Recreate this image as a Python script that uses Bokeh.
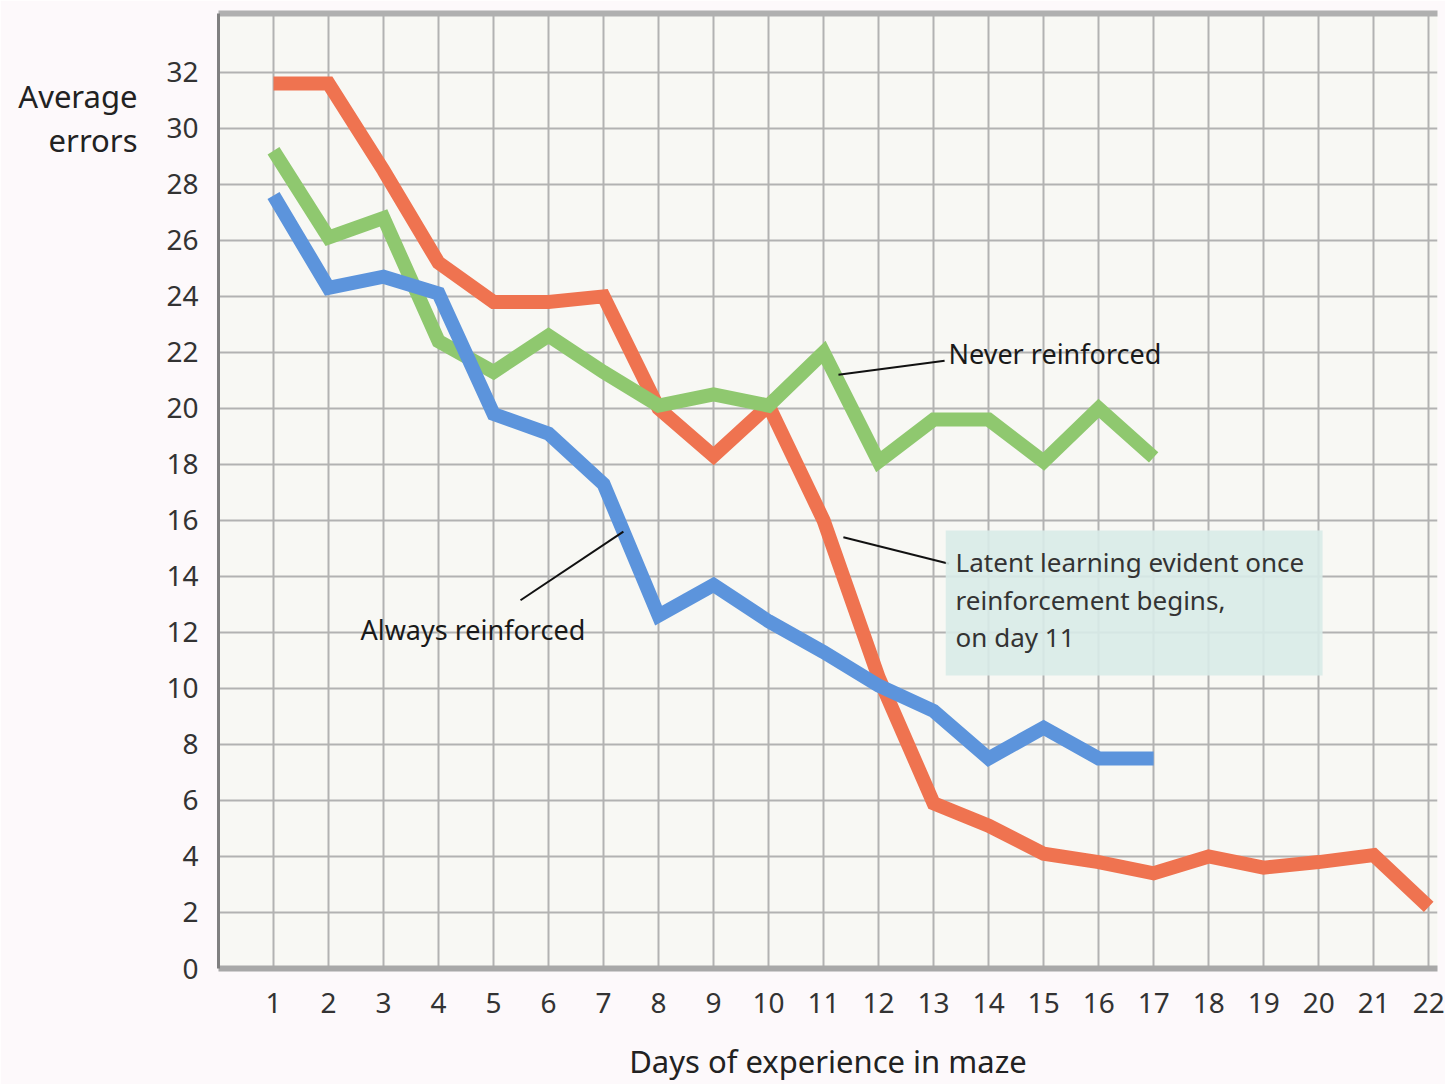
from bokeh.plotting import figure
from bokeh.models import (Label, BoxAnnotation, LinearAxis, FixedTicker, Range1d)
from bokeh.embed import file_html
from bokeh.resources import INLINE

# ---- data ----
days_red = list(range(1, 23))
latent = [31.6, 31.6, 28.5, 25.2, 23.8, 23.8, 24.0, 20.0, 18.3, 20.1, 16.0, 10.4,
          5.9, 5.1, 4.1, 3.8, 3.4, 4.0, 3.6, 3.8, 4.05, 2.2]
days_17 = list(range(1, 18))
never = [29.2, 26.1, 26.8, 22.4, 21.3, 22.6, 21.3, 20.1, 20.5, 20.1, 22.0, 18.1,
         19.6, 19.6, 18.1, 20.0, 18.25]
always = [27.6, 24.3, 24.7, 24.1, 19.8, 19.1, 17.3, 12.6, 13.7, 12.4, 11.3, 10.1,
          9.2, 7.5, 8.6, 7.5, 7.5]
y_ticks = list(range(0, 33, 2))
x_ticks = list(range(1, 23))
y_title = "Average\nerrors"
y_title_pos = 30.375

RED = "#ef7350"
GREEN = "#8fc86f"
BLUE = "#5c94dc"
FONT = "Noto Sans"

p = figure(width=1445, height=1084, output_backend="svg", toolbar_location=None,
           x_range=Range1d(0, 22.16), y_range=Range1d(0, 34.1),
           min_border_left=218, min_border_right=8, min_border_top=13,
           min_border_bottom=112, background_fill_color="#f8f8f4",
           border_fill_color="#fdf9fb", outline_line_color=None)

# grid
p.xgrid.ticker = FixedTicker(ticks=x_ticks)
p.ygrid.ticker = FixedTicker(ticks=y_ticks)
for g in (p.xgrid, p.ygrid):
    g.grid_line_color = "#b2b2b2"
    g.grid_line_width = 2

# axes
xa = p.xaxis[0]
xa.ticker = FixedTicker(ticks=x_ticks)
xa.axis_line_color = "#a8a8a8"
xa.axis_line_width = 6
xa.major_tick_line_color = None
xa.major_tick_out = 0
xa.minor_tick_line_color = None
xa.major_label_text_font = FONT
xa.major_label_text_font_size = "28px"
xa.major_label_text_color = "#333333"
xa.major_label_standoff = 24
xa.axis_label = "Days of experience in maze"
xa.axis_label_text_font = FONT
xa.axis_label_text_font_size = "31px"
xa.axis_label_text_font_style = "normal"
xa.axis_label_text_color = "#222222"
xa.axis_label_standoff = 24

ya = p.yaxis[0]
ya.ticker = FixedTicker(ticks=y_ticks)
ya.axis_line_color = "#808080"
ya.axis_line_width = 3
ya.major_tick_line_color = None
ya.major_tick_out = 0
ya.minor_tick_line_color = None
ya.major_label_text_font = FONT
ya.major_label_text_font_size = "28px"
ya.major_label_text_color = "#333333"
ya.major_label_standoff = 20

# y title as a second, line-less axis carrying one label
ta = LinearAxis(ticker=FixedTicker(ticks=[y_title_pos]),
                major_label_overrides={y_title_pos: y_title},
                axis_line_color=None, major_tick_line_color=None, major_tick_out=0,
                minor_tick_line_color=None, major_label_standoff=26,
                major_label_text_font=FONT, major_label_text_font_size="31px",
                major_label_text_line_height=1.05,
                major_label_text_color="#222222")
p.add_layout(ta, "left")

top = LinearAxis(ticker=FixedTicker(ticks=[]), axis_line_color="#b0b0b0",
                 axis_line_width=6, major_tick_line_color=None, major_tick_out=0,
                 minor_tick_line_color=None, major_label_text_font_size="0px")
p.add_layout(top, "above")

# lines
p.line(days_red, latent, line_color=RED, line_width=14, line_join="miter")
p.line(days_17, never, line_color=GREEN, line_width=14, line_join="miter")
p.line(days_17, always, line_color=BLUE, line_width=14, line_join="miter")

# annotation box
p.add_layout(BoxAnnotation(left=13.22, right=20.07, bottom=10.46, top=15.64,
                           fill_color="#d8ebe8", fill_alpha=0.9, line_color=None))

note_lines = ["Latent learning evident once", "reinforcement begins,", "on day 11"]
for i, t in enumerate(note_lines):
    p.add_layout(Label(x=13.4, y=14.5 - i * 1.34, text=t, text_align="left",
                       text_baseline="middle", text_font=FONT,
                       text_font_size="26px", text_color="#333333"))

p.add_layout(Label(x=13.27, y=21.95, text="Never reinforced", text_align="left",
                   text_baseline="middle", text_font=FONT, text_font_size="27px",
                   text_color="#1a1a1a"))
p.add_layout(Label(x=2.58, y=12.1, text="Always reinforced", text_align="left",
                   text_baseline="middle", text_font=FONT, text_font_size="27px",
                   text_color="#1a1a1a"))

# leader lines
lead_x0 = [11.27, 11.36, 5.49]
lead_y0 = [21.2, 15.4, 13.15]
lead_x1 = [13.2, 13.28, 7.36]
lead_y1 = [21.7, 14.45, 15.6]
p.segment(lead_x0, lead_y0, lead_x1, lead_y1, line_color="#111111", line_width=2)

open("out.html", "w").write(file_html(p, INLINE))
